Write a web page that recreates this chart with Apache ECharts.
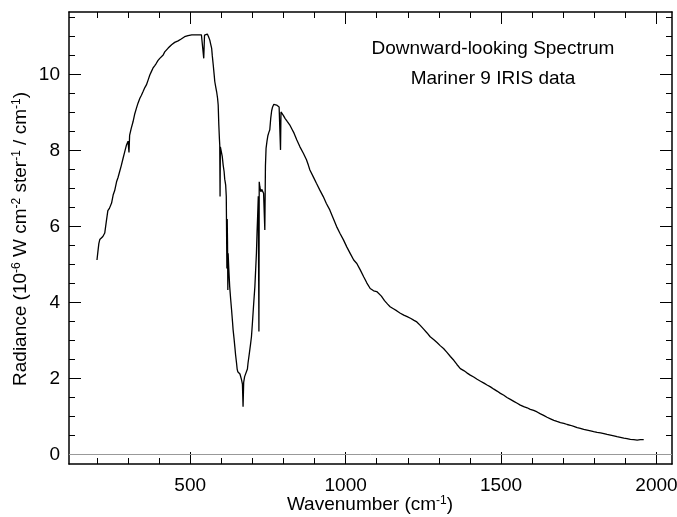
<!DOCTYPE html>
<html>
<head>
<meta charset="utf-8">
<title>Downward-looking Spectrum</title>
<script src="https://cdn.jsdelivr.net/npm/echarts@6/dist/echarts.min.js"></script>
<style>
    html, body { margin: 0; padding: 0; background: #fff; }
    #spectrumContainer { width: 677px; height: 517px; }
</style>
</head>
<body>
<div id="spectrumContainer"></div>
<script>
// Mariner 9 IRIS
var wavenumber = [
    200, 203, 206, 209, 214, 219, 225, 230, 235, 240, 243, 247, 252, 257, 263, 268, 273, 278, 284, 289,
    295, 300, 303, 305, 310, 316, 321, 327, 332, 338, 343, 348, 354, 359, 365, 370, 375, 380, 386, 391,
    396, 402, 407, 413, 418, 424, 429, 434, 440, 445, 450, 456, 461, 466, 471, 477, 482, 488, 493, 499,
    505, 510, 515, 520, 526, 531, 536, 541, 543.5, 546, 551, 555, 559, 563, 566, 569, 571, 574, 577, 579,
    582, 585, 588, 590, 592, 594, 595, 596, 597, 600, 603, 606, 609, 611, 614, 616, 617, 618, 619, 620,
    621, 622, 624, 627, 630, 633, 636, 638, 641, 643.5, 646, 649, 651, 653, 656, 660, 665, 668, 670, 672,
    675, 678, 681, 684, 686, 690, 694, 697, 700, 704, 708, 711, 713, 715, 717, 719, 720, 721, 722, 724,
    727, 730, 733, 736, 738, 740, 742, 744, 747, 750, 753, 756, 759, 762, 765, 769, 773, 778, 782, 786,
    789, 790.5, 792, 795, 800, 805, 812, 820, 827, 834, 843, 853, 864, 874, 880, 885, 896, 906, 917, 928,
    938, 949, 960, 971, 982, 993, 1004, 1015, 1026, 1036, 1047, 1058, 1068, 1079, 1090, 1100, 1106, 1115, 1125, 1135,
    1143, 1155, 1165, 1176, 1187, 1198, 1210, 1220, 1229, 1240, 1251, 1262, 1272, 1283, 1294, 1305, 1315, 1326, 1337, 1348,
    1358, 1369, 1380, 1390, 1401, 1412, 1423, 1434, 1445, 1455, 1466, 1477, 1487, 1498, 1509, 1519, 1530, 1541, 1552, 1562,
    1573, 1584, 1594, 1605, 1616, 1627, 1637, 1648, 1659, 1670, 1680, 1691, 1702, 1713, 1723, 1734, 1745, 1755, 1766, 1777,
    1788, 1798, 1809, 1820, 1831, 1841, 1852, 1863, 1873, 1884, 1895, 1905, 1916, 1927, 1938, 1948, 1959
];
var radiance = [
    5.12, 5.34, 5.55, 5.66, 5.70, 5.74, 5.83, 6.13, 6.42, 6.48, 6.53, 6.62, 6.83, 6.95, 7.18, 7.30, 7.45, 7.60, 7.80, 7.96,
    8.15, 8.25, 7.95, 8.40, 8.58, 8.76, 8.95, 9.12, 9.25, 9.38, 9.46, 9.55, 9.66, 9.73, 9.87, 9.99, 10.08, 10.17, 10.24, 10.30,
    10.37, 10.43, 10.48, 10.52, 10.60, 10.65, 10.70, 10.74, 10.79, 10.83, 10.85, 10.87, 10.89, 10.91, 10.94, 10.97, 11.00, 11.03, 11.03, 11.04,
    11.05, 11.04, 11.05, 11.06, 11.05, 11.06, 11.05, 11.04, 10.43, 11.04, 11.05, 11.07, 11.00, 10.91, 10.80, 10.69, 10.50, 10.26, 10.00, 9.82,
    9.68, 9.55, 9.38, 9.20, 8.68, 8.30, 8.15, 6.79, 8.10, 8.06, 7.85, 7.62, 7.45, 7.25, 7.10, 6.80, 6.75, 4.90, 6.20, 5.60,
    4.33, 5.30, 4.90, 4.42, 4.10, 3.81, 3.50, 3.28, 3.05, 2.84, 2.62, 2.41, 2.25, 2.18, 2.20, 2.12, 1.97, 1.85, 1.26, 1.90,
    2.05, 2.08, 2.10, 2.25, 2.41, 2.65, 2.90, 3.10, 3.45, 3.95, 4.42, 4.95, 5.30, 5.85, 6.30, 6.80, 5.00, 3.24, 7.18, 7.05,
    6.92, 6.98, 7.01, 6.88, 6.83, 5.91, 7.60, 8.06, 8.25, 8.40, 8.48, 8.55, 8.85, 9.05, 9.15, 9.22, 9.21, 9.20, 9.18, 9.15,
    9.10, 8.02, 9.02, 8.98, 8.92, 8.85, 8.77, 8.68, 8.57, 8.46, 8.28, 8.10, 7.93, 7.76, 7.62, 7.49, 7.31, 7.14, 6.96, 6.79,
    6.61, 6.44, 6.22, 6.00, 5.82, 5.65, 5.46, 5.29, 5.12, 5.03, 4.86, 4.68, 4.52, 4.37, 4.31, 4.29, 4.28, 4.17, 4.05, 3.96,
    3.89, 3.83, 3.78, 3.72, 3.67, 3.63, 3.58, 3.53, 3.49, 3.40, 3.30, 3.20, 3.10, 3.03, 2.95, 2.86, 2.79, 2.69, 2.58, 2.48,
    2.37, 2.26, 2.21, 2.15, 2.09, 2.04, 1.98, 1.93, 1.88, 1.83, 1.78, 1.72, 1.67, 1.61, 1.56, 1.50, 1.45, 1.40, 1.35, 1.30,
    1.26, 1.23, 1.19, 1.16, 1.12, 1.07, 1.03, 0.98, 0.94, 0.90, 0.87, 0.84, 0.82, 0.79, 0.77, 0.74, 0.71, 0.69, 0.66, 0.64,
    0.62, 0.60, 0.58, 0.57, 0.55, 0.53, 0.51, 0.49, 0.47, 0.45, 0.43, 0.42, 0.40, 0.39, 0.38, 0.39, 0.39
];

var xMajorTicks = [500, 1000, 1500, 2000];
var xMinorTicks = [200, 300, 400, 600, 700, 800, 900, 1100, 1200, 1300, 1400, 1600, 1700, 1800, 1900];
var yMajorTicks = [0, 2, 4, 6, 8, 10];
var yMinorTicks = [0.5, 1, 1.5, 2.5, 3, 3.5, 4.5, 5, 5.5, 6.5, 7, 7.5, 8.5, 9, 9.5, 10.5, 11, 11.5];

var xMin = 110, xMax = 2050;
var yMin = -0.25, yMax = 11.65;

var font = 'Liberation Sans';
var fontSize = 19;
// superscripts: small text pushed up by bottom padding
var supStyle = { fontSize: 12, fontFamily: font, color: '#000', lineHeight: 12, padding: [0, 0, 9, 0] };
var txtStyle = { fontSize: fontSize, fontFamily: font, color: '#000', lineHeight: 22 };

var spectrum = [];
for (var i = 0; i < wavenumber.length; i++) {
    spectrum.push([wavenumber[i], radiance[i]]);
}

function plainNumber(v) {
    return String(v);
}

function xAxisDef(pos, ticks, len, main) {
    return {
        type: 'value',
        position: pos,
        min: xMin,
        max: xMax,
        axisLine: { show: main, onZero: false, lineStyle: { color: '#000', width: 1.5 } },
        axisTick: { show: true, inside: true, length: len, customValues: ticks, lineStyle: { color: '#000', width: 1 } },
        axisLabel: { show: main && pos === 'bottom', customValues: ticks, formatter: plainNumber, margin: 12, fontSize: fontSize, fontFamily: font, color: '#000' },
        splitLine: { show: false }
    };
}

function yAxisDef(pos, ticks, len, main) {
    return {
        type: 'value',
        position: pos,
        min: yMin,
        max: yMax,
        axisLine: { show: main, onZero: false, lineStyle: { color: '#000', width: 1.5 } },
        axisTick: { show: true, inside: true, length: len, customValues: ticks, lineStyle: { color: '#000', width: 1 } },
        axisLabel: { show: main && pos === 'left', customValues: ticks, formatter: plainNumber, margin: 9, fontSize: fontSize, fontFamily: font, color: '#000' },
        splitLine: { show: false }
    };
}

var option = {
    backgroundColor: '#fff',
    animation: false,
    grid: { left: 69, right: 5, top: 12, bottom: 53, containLabel: false, outerBoundsMode: 'none' },
    xAxis: [
        xAxisDef('bottom', xMajorTicks, 12, true),
        xAxisDef('bottom', xMinorTicks, 6, false),
        xAxisDef('top', xMajorTicks, 12, true),
        xAxisDef('top', xMinorTicks, 6, false)
    ],
    yAxis: [
        yAxisDef('left', yMajorTicks, 12, true),
        yAxisDef('left', yMinorTicks, 6, false),
        yAxisDef('right', yMajorTicks, 12, true),
        yAxisDef('right', yMinorTicks, 6, false)
    ],
    graphic: [
        {
            type: 'text',
            x: 370,
            y: 505,
            style: {
                text: '{t|Wavenumber (cm}{s|-1}{t|)}',
                rich: { t: txtStyle, s: supStyle },
                align: 'center',
                verticalAlign: 'middle'
            }
        },
        {
            type: 'text',
            x: 21,
            y: 239,
            rotation: Math.PI / 2,
            style: {
                text: '{t|Radiance (10}{s|-6}{t| W cm}{s|-2}{t| ster}{s|-1}{t| / cm}{s|-1}{t|)}',
                rich: { t: txtStyle, s: supStyle },
                align: 'center',
                verticalAlign: 'middle'
            }
        },
        {
            type: 'text',
            x: 493,
            y: 49,
            style: { text: 'Downward-looking Spectrum', fontSize: fontSize, fontFamily: font, fill: '#000', align: 'center', verticalAlign: 'middle' }
        },
        {
            type: 'text',
            x: 493,
            y: 79,
            style: { text: 'Mariner 9 IRIS data', fontSize: fontSize, fontFamily: font, fill: '#000', align: 'center', verticalAlign: 'middle' }
        }
    ],
    series: [
        {
            type: 'line',
            xAxisIndex: 0,
            yAxisIndex: 0,
            data: spectrum,
            showSymbol: false,
            lineStyle: { color: '#000', width: 1.3 },
            markLine: {
                silent: true,
                symbol: 'none',
                label: { show: false },
                lineStyle: { color: '#999', width: 1, type: 'solid' },
                data: [ { yAxis: 0 } ]
            }
        }
    ]
};

var chart = echarts.init(document.getElementById('spectrumContainer'), null, { renderer: 'canvas' });
chart.setOption(option);
</script>
</body>
</html>
